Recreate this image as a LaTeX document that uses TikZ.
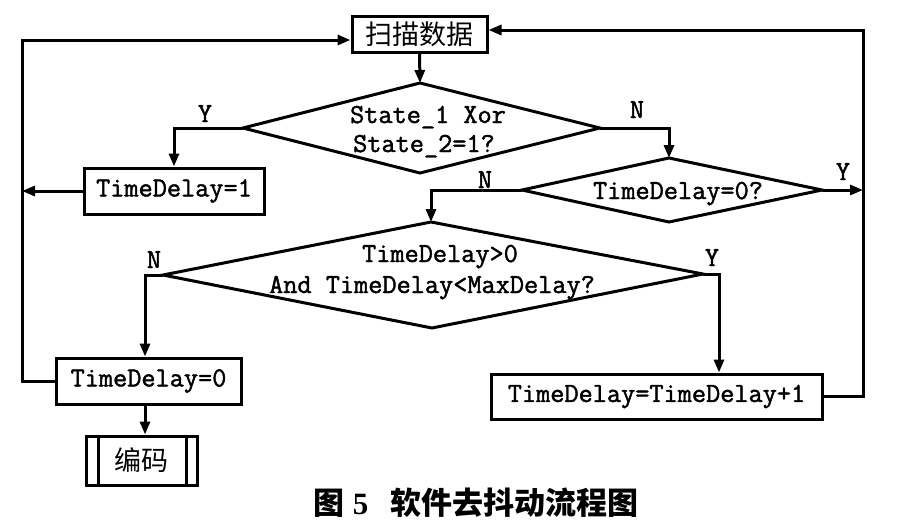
\documentclass[tikz,border=0pt]{standalone}
\usepackage{fontspec}
\usetikzlibrary{arrows.meta}
\setmainfont{Liberation Serif}
\newfontfamily\cjk{Noto Sans CJK SC}
\newfontfamily\lmmono{Latin Modern Mono}[FakeBold=1.6]
\newcommand{\monof}{\lmmono\fontsize{27.5}{30}\selectfont}
\tikzset{
  ln/.style={line width=3pt},
  box/.style={draw, rectangle, inner sep=0pt, line width=3pt, font=\monof},
  cbox/.style={draw, rectangle, inner sep=0pt, line width=3pt,
    font=\cjk\fontsize{27}{29}\selectfont},
  lbl/.style={font=\monof, inner sep=0pt, anchor=base},
  arr/.style={ln, -{Triangle[length=13pt,width=10pt]}},
}
\begin{document}
\begin{tikzpicture}[x=1pt,y=-1pt]
\useasboundingbox (0,0) rectangle (905,530);
% boxes
\node[cbox, minimum width=135pt, minimum height=36pt] (scan) at (419.5,34) {扫描数据};
\node[box, minimum width=180pt, minimum height=46pt] (td1) at (174,191) {TimeDelay=1};
\node[box, minimum width=185pt, minimum height=46pt] (td0) at (148.5,381) {TimeDelay=0};
\node[box, minimum width=331pt, minimum height=45pt] (tdinc) at (656.5,396.5) {TimeDelay=TimeDelay+1};
\node[cbox, minimum width=111pt, minimum height=49pt] (enc) at (141.5,460.5) {编码};
\coordinate (encl) at (98,436);
\coordinate (encr) at (186,436);
\draw[ln] (encl) -- (encl |- enc.south);
\draw[ln] (encr) -- (encr |- enc.south);
% diamond 1
\coordinate (d1t) at (420,83);
\coordinate (d1l) at (243,128);
\coordinate (d1r) at (600,128);
\coordinate (d1b) at (420,173);
\draw[ln] (d1t) -- (d1r) -- (d1b) -- (d1l) -- cycle;
\node[lbl] (d1a) at (428,123) {State\_1 Xor};
\node[lbl] (d1c) at (424,152) {State\_2=1?};
% diamond 2
\coordinate (d2t) at (669,158);
\coordinate (d2l) at (522,190);
\coordinate (d2r) at (822,190);
\coordinate (d2b) at (669,222);
\draw[ln] (d2t) -- (d2r) -- (d2b) -- (d2l) -- cycle;
\node[lbl] (d2a) at (678,199) {TimeDelay=0?};
% diamond 3
\coordinate (d3t) at (431,222);
\coordinate (d3l) at (163,275);
\coordinate (d3r) at (703,274);
\coordinate (d3b) at (432,328);
\draw[ln] (d3t) -- (d3r) -- (d3b) -- (d3l) -- cycle;
\node[lbl] (d3a) at (440,262) {TimeDelay>0};
\node[lbl] (d3c) at (432,293) {And TimeDelay<MaxDelay?};
% labels
\node[lbl] (y1) at (205,122) {Y};
\node[lbl] (n1) at (637,118) {N};
\node[lbl] (y2) at (843,180) {Y};
\node[lbl] (n2) at (485,188) {N};
\node[lbl] (n3) at (154,268) {N};
\node[lbl] (y3) at (712,266) {Y};
% loop coordinates
\coordinate (L) at (22,40);
\coordinate (R) at (863,30);
\coordinate (yin) at (719,0);
\coordinate (ny) at (145,0);
% connectors
\draw[arr] (scan.south) -- (d1t);
\draw[arr] (d1l) -| (td1.north);
\draw[arr] (d1r) -| (d2t);
\draw[arr] (d2l) -| (d3t);
\draw[arr] (d2r) -- (d2r -| R);
\draw[arr] (td1.west) -- (td1.west -| L);
\draw[arr] (d3l) -| (ny |- td0.north);
\draw[arr] (d3r) -| (yin |- tdinc.north);
\draw[arr] (ny |- td0.south) -- (ny |- enc.north);
\draw[arr] (td0.west) -| (L) -- (L -| scan.west);
\draw[arr] (tdinc.east) -| (R) -- (R -| scan.east);
% caption
\node[inner sep=0pt] (cap) at (476,503) {\cjk\bfseries\fontsize{31}{33}\selectfont 图\hspace{8pt}{\rmfamily\bfseries 5}\hspace{22pt}软件去抖动流程图};
\end{tikzpicture}
\end{document}
